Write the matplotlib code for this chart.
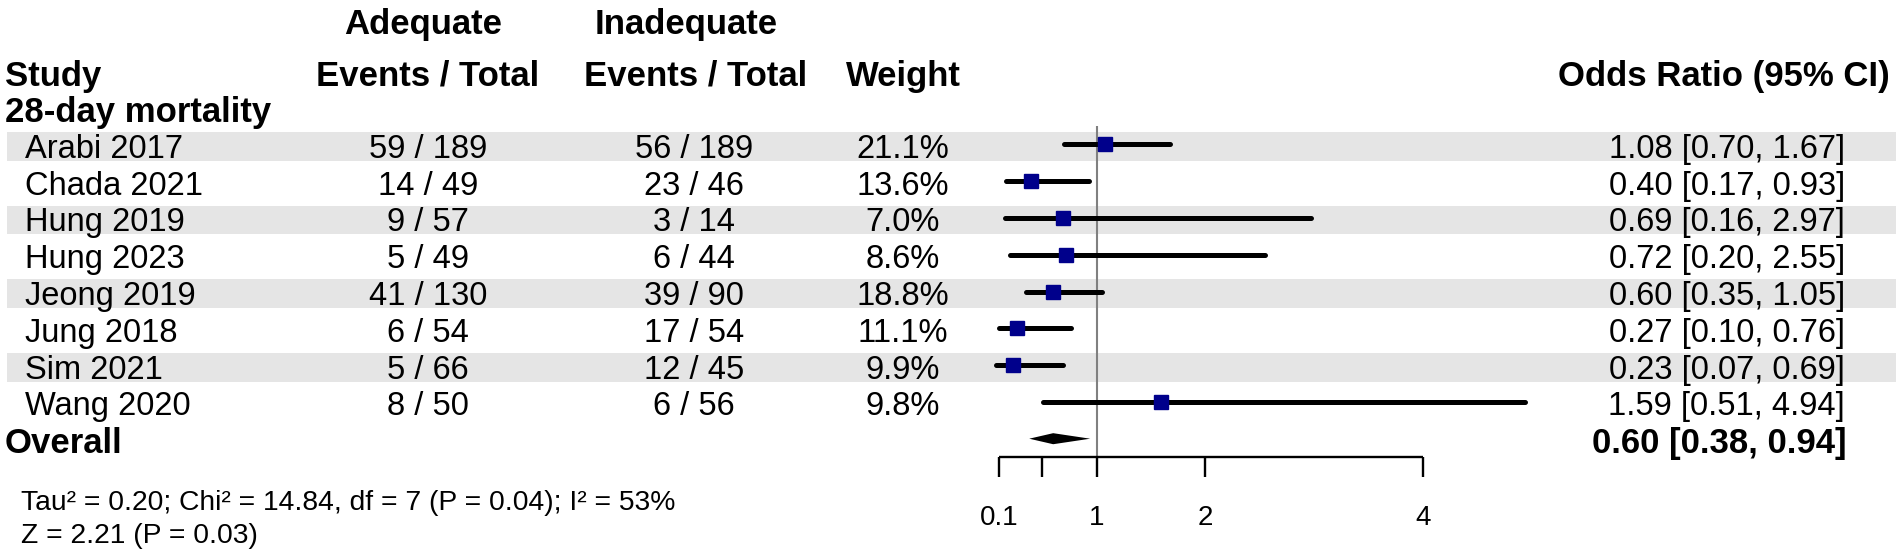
import matplotlib
matplotlib.use("Agg")
import matplotlib.pyplot as plt

plt.rcParams['font.family'] = ['Liberation Sans', 'DejaVu Sans']

# ---- data ----
studies = ['Arabi 2017', 'Chada 2021', 'Hung 2019', 'Hung 2023',
           'Jeong 2019', 'Jung 2018', 'Sim 2021', 'Wang 2020']
adequate = ['59 / 189', '14 / 49', '9 / 57', '5 / 49',
            '41 / 130', '6 / 54', '5 / 66', '8 / 50']
inadequate = ['56 / 189', '23 / 46', '3 / 14', '6 / 44',
              '39 / 90', '17 / 54', '12 / 45', '6 / 56']
weights = [21.1, 13.6, 7.0, 8.6, 18.8, 11.1, 9.9, 9.8]
odds = [1.08, 0.40, 0.69, 0.72, 0.60, 0.27, 0.23, 1.59]
ci_low = [0.70, 0.17, 0.16, 0.20, 0.35, 0.10, 0.07, 0.51]
ci_high = [1.67, 0.93, 2.97, 2.55, 1.05, 0.76, 0.69, 4.94]
overall = (0.60, 0.38, 0.94)
x_ticks = [0.1, 0.5, 1, 2, 4]
x_tick_labels = ['0.1', '', '1', '2', '4']
het_text = 'Tau\u00b2 = 0.20; Chi\u00b2 = 14.84, df = 7 (P = 0.04); I\u00b2 = 53%'
z_text = 'Z = 2.21 (P = 0.03)'

W, H = 1902, 557
fig = plt.figure(figsize=(W / 100, H / 100), dpi=100)

# rows: study i sits at y=i, one row = 36.8 px, row 0 centre at 144.3 px
row_px, row0_px = 36.8, 144.3
ylim = ((H - row0_px) / row_px, -row0_px / row_px)

# text layer, x in pixels
ax_t = fig.add_axes([0, 0, 1, 1])
ax_t.set_xlim(0, W)
ax_t.set_ylim(*ylim)
ax_t.axis('off')

# forest layer, x in odds ratio units (1 -> 1096.7 px, 108.8 px per unit)
ax = fig.add_axes([0, 0, 1, 1])
ax.set_xlim(1 - 1096.7 / 108.8, 1 + (W - 1096.7) / 108.8)
ax.set_ylim(*ylim)
ax.axis('off')
ax.patch.set_alpha(0)

n = len(studies)
rows = list(range(n))

# zebra bands
band_rows = [r + 0.06 for r in rows if r % 2 == 0]
ax_t.barh(band_rows, 1896 - 7, left=7, height=0.775, color='#e5e5e5', zorder=0)

body = 23.5
head = 25
va = 'center_baseline'
ax_t.text(423, -3.36, 'Adequate', ha='center', va=va, fontsize=head, fontweight='bold')
ax_t.text(686, -3.36, 'Inadequate', ha='center', va=va, fontsize=head, fontweight='bold')
ax_t.text(5, -1.95, 'Study', ha='left', va=va, fontsize=head, fontweight='bold')
ax_t.text(428, -1.95, 'Events / Total', ha='center', va=va, fontsize=head, fontweight='bold')
ax_t.text(696, -1.95, 'Events / Total', ha='center', va=va, fontsize=head, fontweight='bold')
ax_t.text(903, -1.95, 'Weight', ha='center', va=va, fontsize=head, fontweight='bold')
ax_t.text(1890, -1.95, 'Odds Ratio (95% CI)', ha='right', va=va, fontsize=head, fontweight='bold')
ax_t.text(5, -0.96, '28-day mortality', ha='left', va=va, fontsize=head, fontweight='bold')

for i in rows:
    y = i + 0.04
    ax_t.text(25, y, studies[i], ha='left', va=va, fontsize=body)
    ax_t.text(428, y, adequate[i], ha='center', va=va, fontsize=body)
    ax_t.text(694, y, inadequate[i], ha='center', va=va, fontsize=body)
    ax_t.text(903, y, f'{weights[i]:.1f}%', ha='center', va=va, fontsize=body)
    ax_t.text(1845, y, f'{odds[i]:.2f} [{ci_low[i]:.2f}, {ci_high[i]:.2f}]',
              ha='right', va=va, fontsize=body)

ax_t.text(5, n + 0.04, 'Overall', ha='left', va=va, fontsize=head, fontweight='bold')
ax_t.text(1847, n + 0.04, f'{overall[0]:.2f} [{overall[1]:.2f}, {overall[2]:.2f}]',
          ha='right', va=va, fontsize=head, fontweight='bold')

ax_t.text(21, 9.67, het_text, ha='left', va=va, fontsize=20.3)
ax_t.text(21, 10.55, z_text, ha='left', va=va, fontsize=20.3)

# reference line at OR = 1
axis_y = n + 0.51
ax.vlines(1, -0.5, axis_y, color='#808080', lw=1.5, zorder=1)

# confidence intervals and point estimates
ax.hlines(rows, ci_low, ci_high, color='black', lw=3.6, capstyle='round', zorder=2)
ax.plot(odds, rows, 's', color='#00008b', markersize=9.5, zorder=3)

# overall diamond
est, lo, hi = overall
ax.fill([lo, est, hi, est], [n, n - 0.15, n, n + 0.15], color='black', lw=0, zorder=3)

# x axis drawn by hand like forestploter
ax.hlines(axis_y, x_ticks[0], x_ticks[-1], color='black', lw=1.7)
ax.vlines(x_ticks, axis_y, axis_y + 0.52, color='black', lw=1.7)
for t, lab in zip(x_ticks, x_tick_labels):
    ax.text(t, n + 2.07, lab, ha='center', va=va, fontsize=20)

fig.savefig('out.png', dpi=100)
